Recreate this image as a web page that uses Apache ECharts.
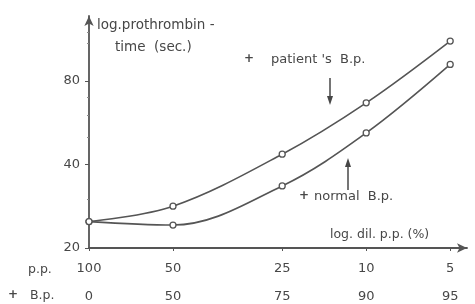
<!DOCTYPE html>
<html>
<head>
<meta charset="utf-8">
<script src="https://cdn.jsdelivr.net/npm/echarts@6/dist/echarts.min.js"></script>
<style>
  html, body { margin: 0; padding: 0; background: #fff; }
  #chart { width: 475px; height: 304px; }
</style>
</head>
<body>
<div id="chart"></div>
<script>
// dilution of patient plasma (p.p.) and added buffer plasma (B.p.), in %
var ppLabels = ['100', '50', '25', '10', '5'];
var bpLabels = ['0', '50', '75', '90', '95'];
// position of each dilution on the drawn log-dilution axis
var xPos = [0, 1, 2.3, 3.3, 4.3];
// prothrombin time (sec.)
var patientBp = [24.9, 28.3, 43.6, 66.8, 111.6];
var normalBp = [24.9, 24.2, 33.5, 52.0, 91.9];
// y axis ticks (sec.)
var yMajor = [20, 40, 80];
var yMinor = [30, 50, 60, 70, 110, 120];

var yMin = 20, yMax = 137.4;
var ink = '#474747';
var font = 'DejaVu Sans';

function toLog(v) { return Math.log2(v / yMin); }
function pairs(arr) {
    return arr.map(function (v, i) { return [xPos[i], v]; });
}
function txt(x, y, s, size, bold) {
    return {
        type: 'text', left: x, top: y,
        style: { text: s, fill: ink, font: (bold ? 'bold ' : '') + size + 'px "' + font + '"' }
    };
}

var myChart = echarts.init(document.getElementById('chart'));

var lineSeries = function (name, data) {
    return {
        name: name,
        type: 'line',
        xAxisIndex: 0,
        yAxisIndex: 0,
        data: pairs(data),
        smooth: 0.35,
        symbol: 'circle',
        symbolSize: 6,
        lineStyle: { color: '#555', width: 1.6 },
        itemStyle: { color: '#fff', borderColor: '#555', borderWidth: 1.3 },
        emphasis: { disabled: true }
    };
};

myChart.setOption({
    animation: false,
    grid: { left: 89, right: 8, top: 16, bottom: 56, containLabel: false, outerBoundsMode: 'none' },
    xAxis: {
        type: 'value',
        min: 0,
        max: 4.5,
        axisLine: {
            show: true,
            symbol: ['none', 'arrow'],
            symbolSize: [7, 10],
            lineStyle: { color: '#555', width: 1.8 }
        },
        axisTick: { show: true, customValues: xPos, length: 3, lineStyle: { color: '#555' } },
        axisLabel: {
            customValues: xPos,
            margin: 7,
            color: ink,
            fontFamily: font,
            fontSize: 13,
            lineHeight: 28,
            formatter: function (v) {
                var i = xPos.findIndex(function (p) { return Math.abs(p - v) < 1e-6; });
                return ppLabels[i] + '\n' + bpLabels[i];
            }
        },
        splitLine: { show: false }
    },
    yAxis: [
        // series are drawn on this log axis
        { type: 'log', logBase: 2, min: yMin, max: yMax, show: false },
        // visible axis, in doublings from 20 sec.
        {
            type: 'value',
            min: 0,
            max: toLog(yMax),
            position: 'left',
            axisLine: {
                show: true,
                symbol: ['none', 'arrow'],
                symbolSize: [7, 10],
                lineStyle: { color: '#555', width: 1.8 }
            },
            axisTick: { show: true, customValues: yMajor.map(toLog), length: 4, lineStyle: { color: '#555' } },
            axisLabel: {
                customValues: yMajor.map(toLog),
                margin: 9,
                color: ink,
                fontFamily: font,
                fontSize: 13,
                formatter: function (v) { return String(Math.round(yMin * Math.pow(2, v))); }
            },
            splitLine: { show: false }
        },
        {
            type: 'value',
            min: 0,
            max: toLog(yMax),
            position: 'left',
            axisLine: { show: false },
            axisTick: { show: true, customValues: yMinor.map(toLog), length: 2, lineStyle: { color: '#888' } },
            axisLabel: { show: false },
            splitLine: { show: false }
        }
    ],
    series: [
        lineSeries("patient's B.p.", patientBp),
        lineSeries('normal B.p.', normalBp)
    ],
    graphic: [
        txt(97, 18, 'log.prothrombin -', 13.5),
        txt(115, 40, 'time  (sec.)', 13.5),
        txt(244, 53, '+', 12, true),
        txt(271, 53, "patient 's  B.p.", 13),
        { type: 'line', shape: { x1: 330, y1: 78, x2: 330, y2: 98 }, style: { stroke: ink, lineWidth: 1.5 } },
        { type: 'polygon', shape: { points: [[327, 96], [333, 96], [330, 105]] }, style: { fill: ink } },
        { type: 'line', shape: { x1: 348, y1: 190, x2: 348, y2: 166 }, style: { stroke: ink, lineWidth: 1.5 } },
        { type: 'polygon', shape: { points: [[345, 167], [351, 167], [348, 158]] }, style: { fill: ink } },
        txt(299, 190, '+', 12, true),
        txt(314, 190, 'normal  B.p.', 13),
        txt(330, 228, 'log. dil. p.p. (%)', 12.5),
        txt(28, 263, 'p.p.', 12.5),
        txt(8, 289, '+', 12, true),
        txt(30, 289, 'B.p.', 12.5)
    ]
});
</script>
</body>
</html>
